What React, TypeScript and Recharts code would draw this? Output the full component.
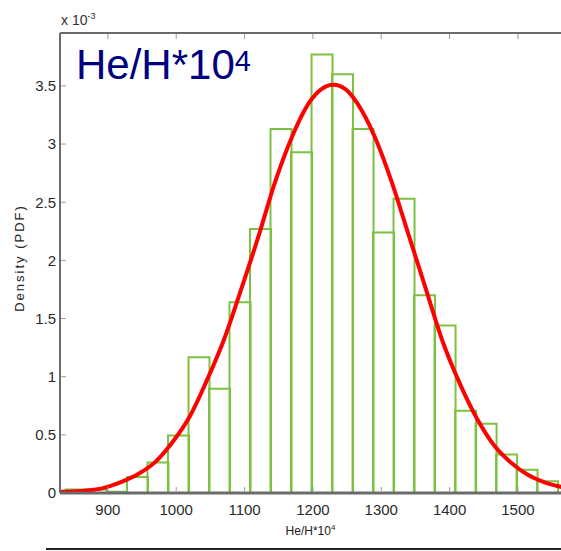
import React from "react";
import { ComposedChart, Bar, Line, XAxis, YAxis } from "recharts";

// histogram bins (bin centre, density x 1e-3), bin width 30
const binCenters = [853, 883, 913, 943, 973, 1003, 1033, 1063, 1093, 1123, 1153, 1183, 1213, 1243, 1273, 1303, 1333, 1363, 1393, 1423, 1453, 1483, 1513, 1543];
const binDensity = [0.03, 0.03, 0.01, 0.137, 0.263, 0.495, 1.168, 0.896, 1.64, 2.27, 3.13, 2.93, 3.77, 3.6, 3.13, 2.24, 2.53, 1.7, 1.44, 0.707, 0.595, 0.33, 0.2, 0.1];

// fitted pdf
const fitX = [830, 860, 890, 920, 945, 970, 995, 1020, 1045, 1070, 1095, 1120, 1145, 1170, 1195, 1212, 1230, 1248, 1265, 1290, 1315, 1340, 1365, 1390, 1415, 1440, 1465, 1490, 1515, 1540, 1565];
const fitPdf = [0.01, 0.018, 0.038, 0.095, 0.165, 0.27, 0.44, 0.66, 0.97, 1.32, 1.75, 2.2, 2.68, 3.07, 3.36, 3.47, 3.51, 3.47, 3.35, 3.07, 2.68, 2.22, 1.76, 1.3, 0.94, 0.64, 0.41, 0.26, 0.155, 0.09, 0.05];

const xTicks = [900, 1000, 1100, 1200, 1300, 1400, 1500];
const yTicks = [0, 0.5, 1, 1.5, 2, 2.5, 3, 3.5];

const xDomain: [number, number] = [830, 1563];
const yDomain: [number, number] = [0, 3.955];

const bins = binCenters.map((c, i) => ({ center: c, density: binDensity[i] }));
const fit = fitX.map((x, i) => ({ x, pdf: fitPdf[i] }));

const GREEN = "#7cc142";
const AXIS = "#6b6b6b";
const TICKMARK = "#9a9a9a";
const FONT = "'Liberation Sans', Arial, sans-serif";

function BinOutline(props: any) {
  const { x, y, width, height } = props;
  if (width == null || height == null) return null;
  return (
    <path
      d={`M${x},${y + height}V${y}H${x + width}V${y + height}`}
      fill="none"
      stroke={GREEN}
      strokeWidth={2}
    />
  );
}

// matlab style: tick marks point into the plot
function LeftTick(props: any) {
  const { x, y, payload } = props;
  return (
    <g>
      {payload.value !== 0 && <line x1={x + 5} x2={x + 10} y1={y} y2={y} stroke={TICKMARK} strokeWidth={1} />}
      <text x={x} y={y} dy="0.355em" textAnchor="end" fontSize={15} fill="#2a2a2a" fontFamily={FONT}>
        {payload.value}
      </text>
    </g>
  );
}

function BottomTick(props: any) {
  const { x, y, payload } = props;
  return (
    <g>
      <line x1={x} x2={x} y1={y - 13} y2={y - 17} stroke={TICKMARK} strokeWidth={1} />
      <text x={x} y={y} dy="0.71em" textAnchor="middle" fontSize={15} fill="#2a2a2a" fontFamily={FONT}>
        {payload.value}
      </text>
    </g>
  );
}

function TopTick(props: any) {
  const { x, y } = props;
  return <line x1={x} x2={x} y1={y + 1} y2={y + 6} stroke={TICKMARK} strokeWidth={1} />;
}

export default function App() {
  return (
    <div style={{ position: "absolute", left: 0, top: 0, width: 561, height: 551, background: "#fff", overflow: "hidden", fontFamily: FONT }}>
      <ComposedChart width={561} height={551} data={bins} barCategoryGap={0} barGap={0} margin={{ top: 32, right: 0, bottom: 28, left: 0 }}>
        <XAxis xAxisId="bins" orientation="top" dataKey="center" type="number" domain={xDomain} allowDataOverflow ticks={xTicks} tick={<TopTick />} tickLine={false} tickSize={0} tickMargin={0} height={1} axisLine={{ stroke: AXIS, strokeWidth: 2 }} />
        <XAxis
          xAxisId="main"
          dataKey="x"
          type="number"
          domain={xDomain}
          allowDataOverflow
          ticks={xTicks}
          tickLine={false}
          tickSize={0}
          tickMargin={11}
          height={30}
          axisLine={{ stroke: AXIS, strokeWidth: 3 }}
          tick={<BottomTick />}
          label={{
            content: (p: any) => {
              const vb = p.viewBox;
              return (
                <text x={vb.x + vb.width / 2} y={535} textAnchor="middle" fontSize={12} fill="#222" fontFamily={FONT}>
                  He/H*10<tspan dy={-5} fontSize={8}>4</tspan>
                </text>
              );
            },
          }}
        />
        <YAxis
          type="number"
          domain={yDomain}
          allowDataOverflow
          ticks={yTicks}
          width={60}
          tickLine={false}
          tickSize={0}
          tickMargin={4}
          axisLine={{ stroke: AXIS, strokeWidth: 2 }}
          tick={<LeftTick />}
          label={{
            content: () => (
              <text x={0} y={0} transform="translate(24,258) rotate(-90)" textAnchor="middle" fontSize={13} letterSpacing={2} fill="#222" fontFamily={FONT}>
                Density (PDF)
              </text>
            ),
          }}
        />
        <Bar xAxisId="bins" dataKey="density" shape={<BinOutline />} isAnimationActive={false} />
        <Line xAxisId="main" data={fit} dataKey="pdf" type="monotone" dot={false} stroke="#ff0000" strokeWidth={4} isAnimationActive={false} />
      </ComposedChart>
      <div style={{ position: "absolute", left: 61, top: 6, fontSize: 14, color: "#333", lineHeight: "20px" }}>
        x 10<sup style={{ fontSize: 9 }}>-3</sup>
      </div>
      <div style={{ position: "absolute", left: 76, top: 40, fontSize: 42, color: "#00007f", lineHeight: "50px" }}>
        He/H*10<sup style={{ fontSize: 29, verticalAlign: "top", position: "relative", top: -4 }}>4</sup>
      </div>
      <div style={{ position: "absolute", left: 46, top: 548, width: 515, height: 2, background: "#222" }} />
    </div>
  );
}
